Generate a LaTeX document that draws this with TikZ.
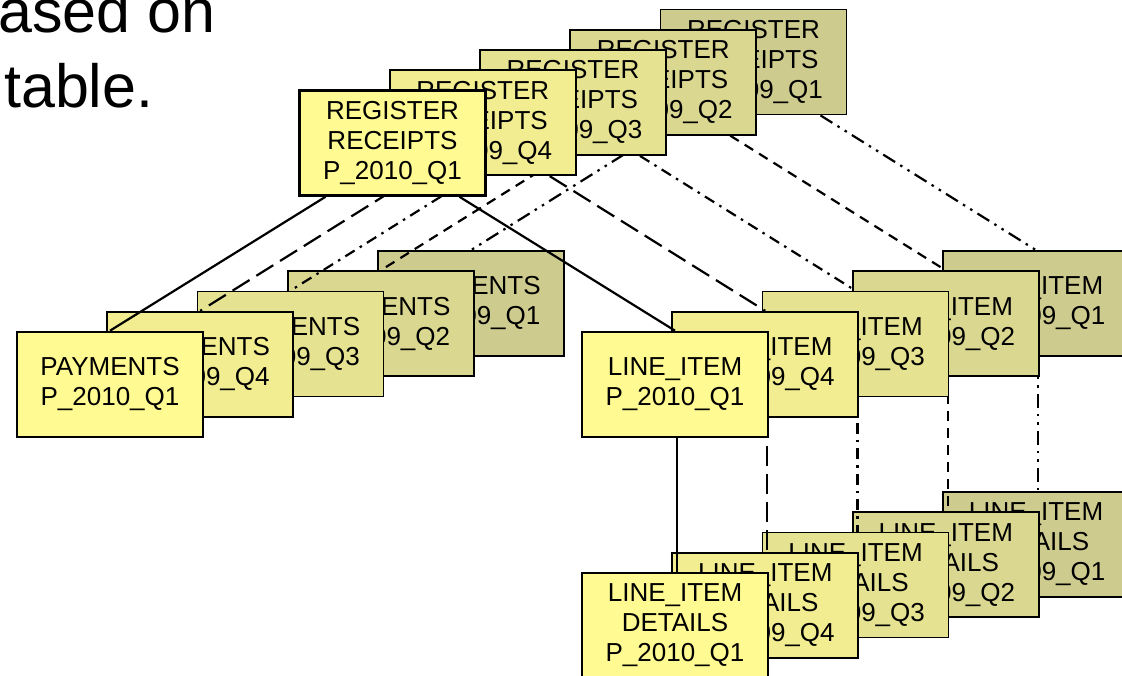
\documentclass[tikz,border=0pt]{standalone}
\usepackage{fontspec}
\setmainfont{Liberation Sans}

\definecolor{qa}{RGB}{206,203,142}
\definecolor{qb}{RGB}{218,215,144}
\definecolor{qc}{RGB}{229,226,145}
\definecolor{qd}{RGB}{242,237,145}
\definecolor{qe}{RGB}{255,250,145}

\tikzset{
  tbl/.style={draw, rectangle, line width=1.8pt, minimum width=186pt, minimum height=105pt,
    inner sep=0pt, align=center, font=\fontsize{26}{30}\selectfont},
  newtbl/.style={tbl, line width=2.6pt},
  lnA/.style={line width=2.2pt, dash pattern=on 14pt off 6pt on 2.5pt off 6pt on 2.5pt off 6pt},
  lnB/.style={line width=2.2pt, dash pattern=on 10pt off 7pt},
  lnC/.style={line width=2.2pt, dash pattern=on 11pt off 6pt on 2.5pt off 6pt},
  lnD/.style={line width=2.2pt, dash pattern=on 20pt off 8pt},
  lnE/.style={line width=2.2pt},
  big/.style={anchor=base west, inner sep=0pt, font=\fontsize{61}{70}\selectfont}
}

\begin{document}
\begin{tikzpicture}[x=1pt,y=-1pt]
\useasboundingbox (0,0) rectangle (1122,676);
\clip (0,0) rectangle (1122,676);

\def \dX{90.25}
\def \dY{20.25}

\node[big] (head1) at (-2,33) {ased on};
\node[big] (head2) at (4,108) {table.};

% stacks, drawn from the oldest quarter to the newest
\foreach \k/\q/\col/\sty/\bx in {4/2009\_Q1/qa/lnA/tbl, 3/2009\_Q2/qb/lnB/tbl,
    2/2009\_Q3/qc/lnC/tbl, 1/2009\_Q4/qd/lnD/tbl, 0/2010\_Q1/qe/lnE/newtbl}{
  \node[\bx, fill=\col] (reg\k) at ({392.5+\dX*\k},{143-\dY*\k}) {REGISTER\\RECEIPTS\\P\_\q};
  \node[\bx, fill=\col] (pay\k) at ({110+\dX*\k},{384.5-\dY*\k}) {PAYMENTS\\P\_\q};
  \node[\bx, fill=\col] (li\k) at ({675+\dX*\k},{384.5-\dY*\k}) {LINE\_ITEM\\P\_\q};
  \node[\bx, fill=\col] (det\k) at ({675+\dX*\k},{625.5-\dY*\k}) {LINE\_ITEM\\DETAILS\\P\_\q};

  \draw[\sty] ([xshift=-67pt]reg\k.south) -- (pay\k.north);
  \draw[\sty] ([xshift=67pt]reg\k.south) -- (li\k.north);
  \draw[\sty] ([xshift=2pt]li\k.south) -- ([xshift=2pt]det\k.north);
}

\end{tikzpicture}
\end{document}
